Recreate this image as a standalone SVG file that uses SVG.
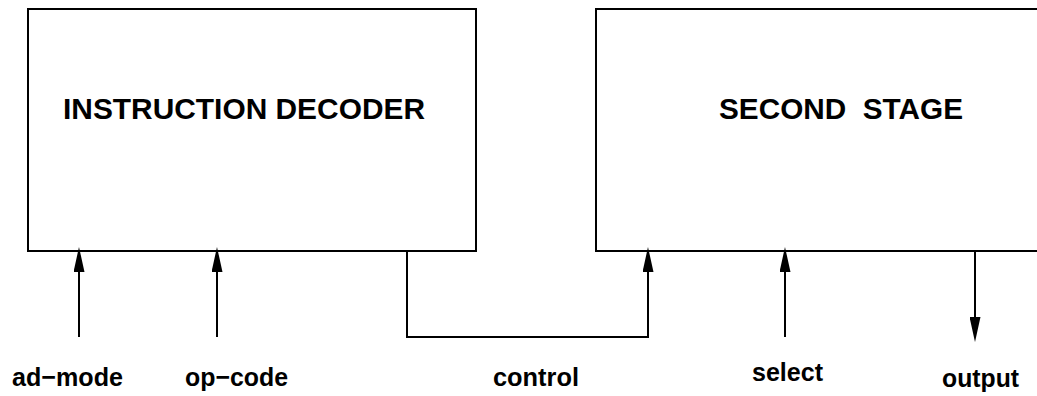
<svg xmlns="http://www.w3.org/2000/svg" width="1037" height="396" viewBox="0 0 1037 396">
<style>
.box{fill:#fff;stroke:#000;stroke-width:2}
.wire{fill:none;stroke:#000;stroke-width:2}
.title{font-family:"Liberation Sans",Arial,sans-serif;font-weight:bold;font-size:29px;fill:#000}
.lbl{font-family:"Liberation Sans",Arial,sans-serif;font-weight:bold;font-size:26px;fill:#000}
</style>
<defs>
<marker id="arr" markerUnits="userSpaceOnUse" markerWidth="25" markerHeight="11" refX="20" refY="5.5" orient="auto" viewBox="0 0 25 11">
<path d="M0,0 L25,5.5 L0,11 Z" fill="#000"/>
</marker>
</defs>
<rect width="1037" height="396" fill="#fff"/>
<g id="instruction-decoder">
<rect class="box" x="28" y="9" width="448" height="242"/>
<text class="title" x="63" y="119" textLength="362" lengthAdjust="spacingAndGlyphs">INSTRUCTION DECODER</text>
</g>
<g id="second-stage">
<rect class="box" x="596" y="9" width="470" height="242"/>
<text class="title" x="719" y="119" textLength="244" lengthAdjust="spacingAndGlyphs" xml:space="preserve">SECOND  STAGE</text>
</g>
<g id="connectors">
<path class="wire" d="M79,337 V252" marker-end="url(#arr)"/>
<path class="wire" d="M217,337 V252" marker-end="url(#arr)"/>
<path class="wire" d="M407,251 V337 H648 V252" marker-end="url(#arr)"/>
<path class="wire" d="M785,337 V252" marker-end="url(#arr)"/>
<path class="wire" d="M975,251 V337" marker-end="url(#arr)"/>
</g>
<g id="labels">
<text class="lbl" x="12" y="386" textLength="111" lengthAdjust="spacingAndGlyphs">ad−mode</text>
<text class="lbl" x="185" y="386" textLength="103" lengthAdjust="spacingAndGlyphs">op−code</text>
<text class="lbl" x="493" y="386" textLength="86" lengthAdjust="spacingAndGlyphs">control</text>
<text class="lbl" x="752" y="381" textLength="71" lengthAdjust="spacingAndGlyphs">select</text>
<text class="lbl" x="942" y="387" textLength="77" lengthAdjust="spacingAndGlyphs">output</text>
</g>
</svg>
